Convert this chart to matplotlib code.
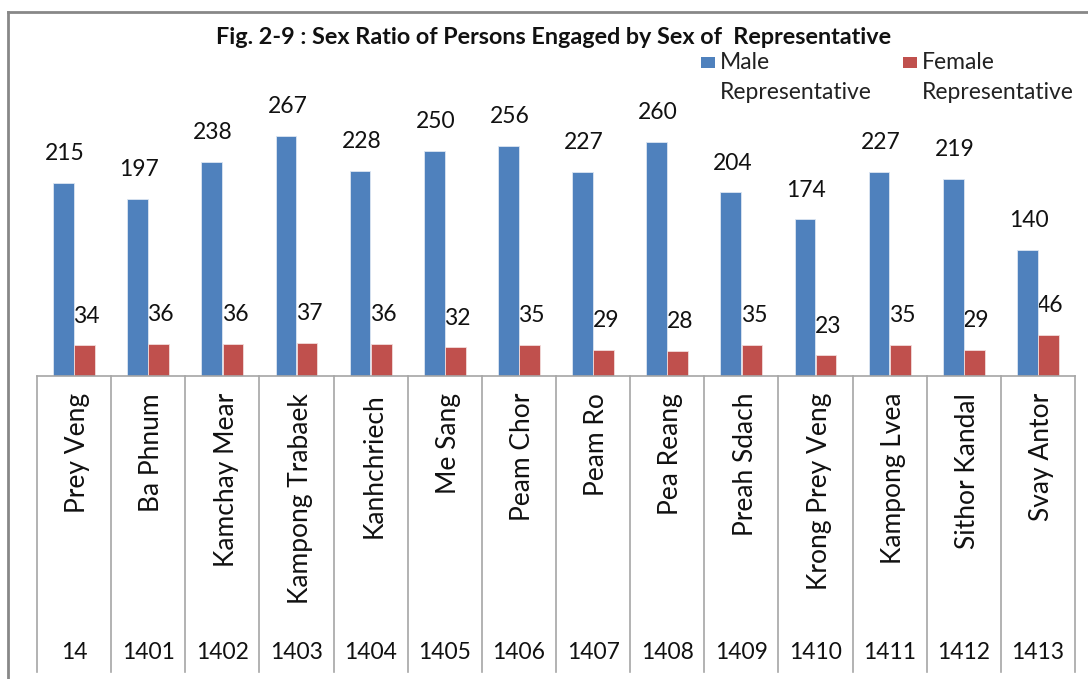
import numpy as np
import matplotlib
matplotlib.use("Agg")
import matplotlib.pyplot as plt
from matplotlib.patches import Rectangle
from matplotlib.lines import Line2D

plt.rcParams['font.family'] = ['Lato', 'DejaVu Sans']

title = "Fig. 2-9 : Sex Ratio of Persons Engaged by Sex of  Representative"
names = ["Prey Veng", "Ba Phnum", "Kamchay Mear", "Kampong Trabaek", "Kanhchriech",
         "Me Sang", "Peam Chor", "Peam Ro", "Pea Reang", "Preah Sdach",
         "Krong Prey Veng", "Kampong Lvea", "Sithor Kandal", "Svay Antor"]
codes = ["14", "1401", "1402", "1403", "1404", "1405", "1406", "1407", "1408",
         "1409", "1410", "1411", "1412", "1413"]
male = [215, 197, 238, 267, 228, 250, 256, 227, 260, 204, 174, 227, 219, 140]
female = [34, 36, 36, 37, 36, 32, 35, 29, 28, 35, 23, 35, 29, 46]
series_names = ["Male\nRepresentative", "Female\nRepresentative"]

BLUE = "#4F81BD"
RED = "#C0504D"
GRID = "#A6A6A6"

W, H = 1088, 679
fig = plt.figure(figsize=(W / 100, H / 100), dpi=100)


def fx(px):
    return px / W


def fy(py):
    return 1 - py / H


ax_top, ax_bot = 106, 376
ax = fig.add_axes([fx(37), fy(ax_bot), fx(1075) - fx(37), (ax_bot - ax_top) / H])
n = len(names)
x = np.arange(n)
off = 0.142
bw = 0.28
ax.bar(x - off, male, bw, color=BLUE, edgecolor="#DCE6F2", linewidth=0.6, zorder=3)
ax.bar(x + off, female, bw, color=RED, edgecolor="#F2DCDB", linewidth=0.6, zorder=3)
ax.set_xlim(-0.5, n - 0.5)
ax.set_ylim(0, 300)
ax.axis("off")

for xi, v in zip(x, male):
    ax.annotate(str(v), (xi - off, v), xytext=(1, 21), textcoords="offset points",
                ha="center", va="center", fontsize=16.5, color="#111111", zorder=2)
for xi, v in zip(x, female):
    ax.annotate(str(v), (xi + off, v), xytext=(1.5, 21), textcoords="offset points",
                ha="center", va="center", fontsize=16.5, color="#111111", zorder=2)

# category table
tr = ax.get_xaxis_transform()
h_ax = ax_bot - ax_top
bottom_frac = -(672 - ax_bot) / h_ax
ax.plot([-0.5, n - 0.5], [0, 0], transform=tr, color=GRID, lw=1.2, clip_on=False, zorder=4)
for k in range(n + 1):
    ax.plot([k - 0.5, k - 0.5], [0, bottom_frac], transform=tr, color=GRID, lw=1.2,
            clip_on=False)
for i in range(n):
    ax.text(i + 0.05, -(393 - ax_bot) / h_ax, names[i], transform=tr, rotation=90,
            ha="center", va="top", fontsize=19, color="#111111")
    ax.text(i, -(653 - ax_bot) / h_ax, codes[i], transform=tr, ha="center",
            va="center", fontsize=16.5, color="#111111")

# outer border
fig.add_artist(Line2D([fx(8), 1], [fy(12), fy(12)], transform=fig.transFigure,
                      color="#888888", lw=2))
fig.add_artist(Line2D([fx(8), fx(8)], [fy(12), 0], transform=fig.transFigure,
                      color="#888888", lw=2))

# title
fig.text(fx(554), fy(37), title, ha="center", va="center", fontsize=16.8,
         fontweight="bold", color="#111111")

# legend
for px, col, lab in [(701, BLUE, series_names[0]), (903, RED, series_names[1])]:
    fig.add_artist(Rectangle((fx(px), fy(68)), 14 / W, 11 / H, transform=fig.transFigure,
                             facecolor=col, edgecolor="none"))
    fig.text(fx(px + 19), fy(77.5), lab, ha="left", va="center", fontsize=16.5,
             linespacing=1.55, color="#222222")

fig.savefig("out.png", dpi=100)
